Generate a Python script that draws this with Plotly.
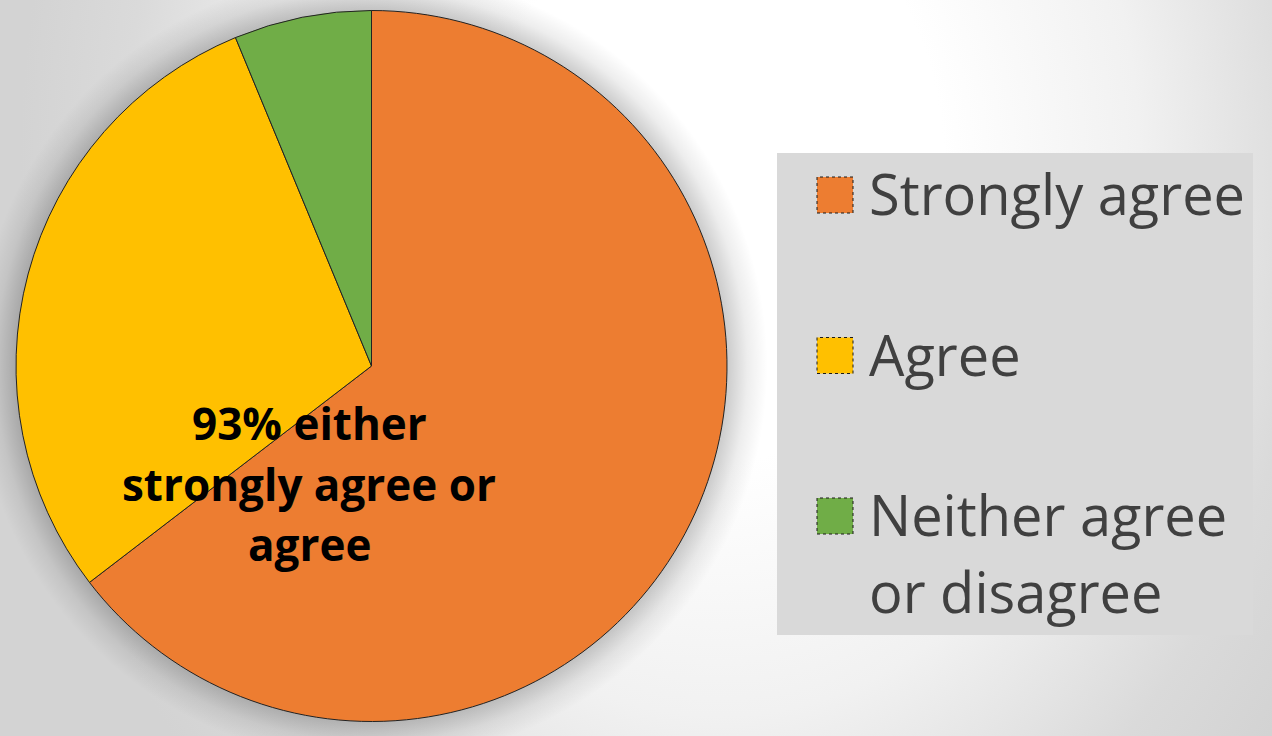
import base64
import textwrap
import plotly.graph_objects as go

# ---------------- data ----------------
labels = ["Strongly agree", "Agree", "Neither agree or disagree"]
counts = [31, 14, 3]
slice_colors = ["#ED7D31", "#FFC000", "#70AD47"]
callout_lines = ["93% either", "strongly agree or", "agree"]

# ---------------- layout constants (pixels) ----------------
W, H = 1272, 736
PIE_X = (16, 727)
PIE_Y = (10, 722)
LEG_BOX = (777, 153, 1253, 635)          # x0, y0, x1, y1
LEG_SQ_X = (817, 853)
LEG_SQ = 36
LEG_TEXT_X = 867
LEG_BASE0 = 214
LEG_STEP = 160.5
LEG_LINE = 77
LEG_FONT = 56
CALL_X = 309
CALL_BASE0 = 439
CALL_LINE = 60.5
CALL_FONT = 44
FONT = "Open Sans, Lato, sans-serif"


def fx(x):
    return x / W


def fy(y):
    return 1 - y / H


# ---------------- background (gradient + pie shadow) ----------------
pcx = (PIE_X[0] + PIE_X[1]) / 2
pcy = (PIE_Y[0] + PIE_Y[1]) / 2
pr = (PIE_Y[1] - PIE_Y[0]) / 2
sh_r = pr + 40
k = pr / sh_r
svg = f"""<svg xmlns="http://www.w3.org/2000/svg" width="{W}" height="{H}" viewBox="0 0 {W} {H}">
<defs>
<radialGradient id="bg" gradientUnits="userSpaceOnUse" cx="720" cy="170" r="700"
 gradientTransform="translate(720 170) scale(1 1.3) translate(-720 -170)">
<stop offset="0" stop-color="#ffffff"/>
<stop offset="0.32" stop-color="#ffffff"/>
<stop offset="0.6" stop-color="#f1f1f1"/>
<stop offset="0.85" stop-color="#dadada"/>
<stop offset="1" stop-color="#d3d3d3"/>
</radialGradient>
<radialGradient id="sh" gradientUnits="userSpaceOnUse" cx="{pcx}" cy="{pcy}" r="{sh_r}">
<stop offset="0" stop-color="#000" stop-opacity="0.2"/>
<stop offset="{k:.3f}" stop-color="#000" stop-opacity="0.2"/>
<stop offset="{(k + 1) / 2:.3f}" stop-color="#000" stop-opacity="0.07"/>
<stop offset="1" stop-color="#000" stop-opacity="0"/>
</radialGradient>
</defs>
<rect x="0" y="0" width="{W}" height="{H}" fill="url(#bg)"/>
<circle cx="{pcx}" cy="{pcy}" r="{sh_r}" fill="url(#sh)"/>
</svg>"""
bg_src = "data:image/svg+xml;base64," + base64.b64encode(svg.encode()).decode()

# ---------------- figure ----------------
fig = go.Figure(
    go.Pie(
        labels=labels,
        values=counts,
        sort=False,
        direction="clockwise",
        rotation=0,
        marker=dict(colors=slice_colors, line=dict(color="#222222", width=1)),
        textinfo="none",
        hoverinfo="label+percent",
        domain=dict(x=[fx(PIE_X[0]), fx(PIE_X[1])], y=[fy(PIE_Y[1]), fy(PIE_Y[0])]),
        showlegend=False,
    )
)

shapes = [
    dict(type="rect", xref="paper", yref="paper",
         x0=fx(LEG_BOX[0]), x1=fx(LEG_BOX[2]), y0=fy(LEG_BOX[3]), y1=fy(LEG_BOX[1]),
         fillcolor="#D9D9D9", line=dict(width=0), layer="below")
]
annotations = []
for i, (lab, col) in enumerate(zip(labels, slice_colors)):
    base = LEG_BASE0 + i * LEG_STEP
    shapes.append(dict(type="rect", xref="paper", yref="paper",
                       x0=fx(LEG_SQ_X[0]), x1=fx(LEG_SQ_X[1]),
                       y0=fy(base - 1), y1=fy(base - 1 - LEG_SQ),
                       fillcolor=col, line=dict(color="#1a1a1a", width=1, dash="dot")))
    for j, line in enumerate(textwrap.wrap(lab, 14)):
        annotations.append(dict(xref="paper", yref="paper", x=fx(LEG_TEXT_X),
                                y=fy(base + j * LEG_LINE - 61),
                                xanchor="left", yanchor="top", align="left", showarrow=False,
                                text=line,
                                font=dict(family=FONT, size=LEG_FONT, color="#404040")))

for j, line in enumerate(callout_lines):
    annotations.append(dict(xref="paper", yref="paper", x=fx(CALL_X),
                            y=fy(CALL_BASE0 + j * CALL_LINE - 48),
                            xanchor="center", yanchor="top", align="center", showarrow=False,
                            text="<b>" + line + "</b>",
                            font=dict(family=FONT, size=CALL_FONT, color="#000000")))

fig.update_layout(
    width=W, height=H,
    margin=dict(l=0, r=0, t=0, b=0, pad=0),
    paper_bgcolor="#dcdcdc",
    plot_bgcolor="rgba(0,0,0,0)",
    showlegend=False,
    shapes=shapes,
    annotations=annotations,
    images=[dict(source=bg_src, xref="paper", yref="paper", x=0, y=1, sizex=1, sizey=1,
                 xanchor="left", yanchor="top", sizing="stretch", layer="below")],
)

fig.write_html(
    "out.html",
    config=dict(displayModeBar=False),
    post_script="document.body.style.margin='0';document.body.style.overflow='hidden';",
)
